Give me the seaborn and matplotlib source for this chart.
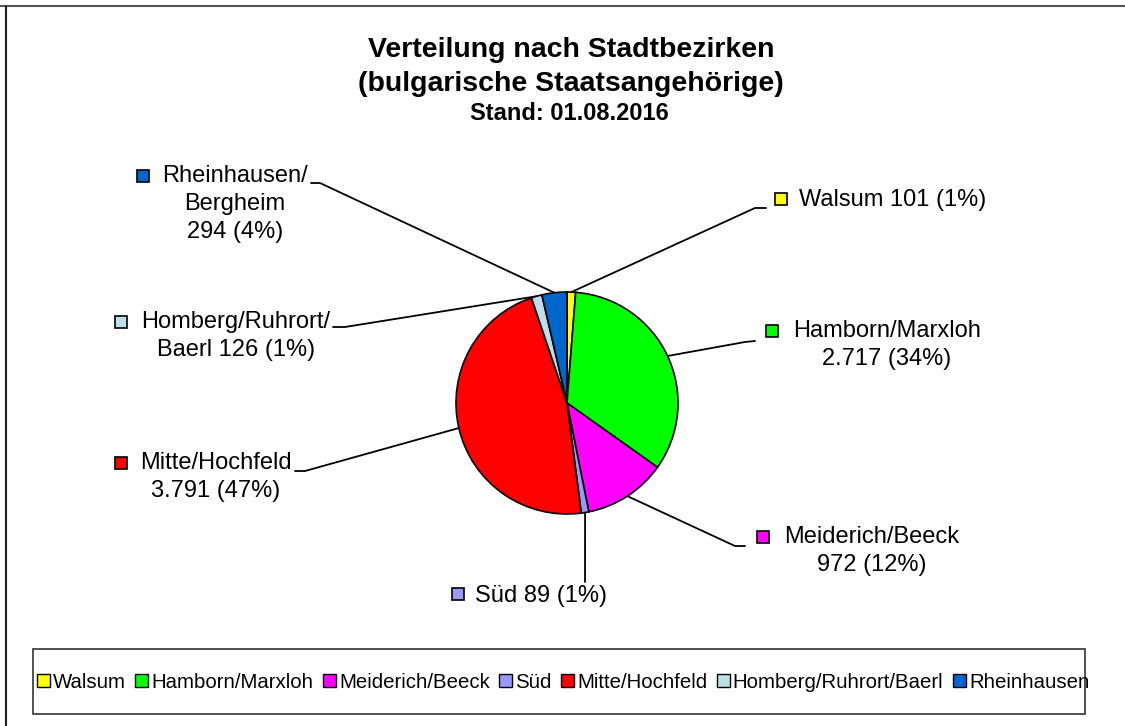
import numpy as np
import pandas as pd
import matplotlib.pyplot as plt
import seaborn as sns
from matplotlib.patches import Rectangle
from matplotlib.lines import Line2D

# Data
bezirke = ['Walsum', 'Hamborn/Marxloh', 'Meiderich/Beeck', 'Süd', 'Mitte/Hochfeld',
           'Homberg/Ruhrort/Baerl', 'Rheinhausen']
anzahl = [101, 2717, 972, 89, 3791, 126, 294]
label_texte = ['Walsum 101 (1%)', 'Hamborn/Marxloh\n2.717 (34%)', 'Meiderich/Beeck\n972 (12%)',
               'Süd 89 (1%)', 'Mitte/Hochfeld\n3.791 (47%)', 'Homberg/Ruhrort/\nBaerl 126 (1%)',
               'Rheinhausen/\nBergheim\n294 (4%)']
farben = ['#FFFF00', '#00FF00', '#FF00FF', '#9999FF', '#FF0000', '#BFDFE8', '#0066CC']

data = pd.DataFrame({'Bezirk': bezirke, 'Anzahl': anzahl, 'Farbe': farben})

sns.set_theme(style='white')
plt.rcParams['font.family'] = ['Liberation Sans', 'DejaVu Sans']
plt.rcParams['text.color'] = 'black'

W, H = 1125, 726
fig = plt.figure(figsize=(W / 100, H / 100), dpi=100)
ax = fig.add_axes([0, 0, 1, 1])


def px(x, y):
    # pixel position (from top left) -> data coords
    return x, H - y


# pie
cx, cy = px(567, 403)
R = 111
wedges, _ = ax.pie(data['Anzahl'], colors=data['Farbe'], startangle=90, counterclock=False,
                   center=(cx, cy), radius=R,
                   wedgeprops=dict(edgecolor='black', linewidth=1.2))
ax.set_xlim(0, W)
ax.set_ylim(0, H)
ax.set_aspect('equal')
ax.set_axis_off()

# label layout (pixels): elbow, line end, text position, text alignment, square position
layout = [
    dict(elbow=(755, 208), end=(766, 208), text=(799, 200), ha='left', sq=(781, 199)),
    dict(elbow=(745, 342), end=(755, 341), text=(887, 345), ha='center', sq=(772, 331)),
    dict(elbow=(735, 546), end=(745, 546), text=(872, 551), ha='center', sq=(763, 537)),
    dict(elbow=None, end=(585, 582), text=(475, 596), ha='left', sq=(458, 594)),
    dict(elbow=(305, 471), end=(295, 471), text=(216, 477), ha='center', sq=(121, 463)),
    dict(elbow=(345, 327), end=(333, 327), text=(236, 336), ha='center', sq=(121, 322)),
    dict(elbow=(320, 183), end=(311, 183), text=(235, 204), ha='center', sq=(143, 176)),
]

for w, lay, txt, col in zip(wedges, layout, label_texte, farben):
    theta = np.deg2rad((w.theta1 + w.theta2) / 2)
    ax_x = cx + R * np.cos(theta)
    ax_y = cy + R * np.sin(theta)
    pts = [(ax_x, ax_y)]
    if lay['elbow'] is not None:
        pts.append(px(*lay['elbow']))
    pts.append(px(*lay['end']))
    xs, ys = zip(*pts)
    ax.plot(xs, ys, color='black', lw=1.3, zorder=0)
    tx, ty = px(*lay['text'])
    ax.text(tx, ty, txt, ha=lay['ha'], va='center', multialignment='center',
            fontsize=17, color='black', linespacing=1.33)
    sx, sy = px(*lay['sq'])
    ax.add_patch(Rectangle((sx - 6, sy - 6), 12, 12, facecolor=col,
                           edgecolor='black', lw=1.2))

# title
fig.text(571 / W, 1 - 50 / H, 'Verteilung nach Stadtbezirken', ha='center', va='center',
         fontsize=20.5, fontweight='bold', color='black')
fig.text(571 / W, 1 - 84 / H, '(bulgarische Staatsangehörige)', ha='center', va='center',
         fontsize=20.5, fontweight='bold', color='black')
fig.text(569 / W, 1 - 113 / H, 'Stand: 01.08.2016', ha='center', va='center',
         fontsize=17, fontweight='bold', color='black')

# legend box
ax.add_patch(Rectangle(px(33, 714), 1052, 65, facecolor='white', edgecolor='#333333', lw=1.2))
handles = [Rectangle((0, 0), 1, 1, facecolor=c, edgecolor='black', lw=1.0) for c in farben]
leg = ax.legend(handles, bezirke, loc='center', bbox_to_anchor=(563 / W, 1 - 682 / H),
                bbox_transform=fig.transFigure, ncol=7, frameon=False,
                handlelength=0.65, handleheight=0.65, handletextpad=0.15,
                columnspacing=0.45, borderpad=0, labelcolor='black',
                prop=dict(family='Liberation Sans', size=14.7))

# outer frame (top and left edges)
fig.add_artist(Line2D([0, 1], [1 - 5.5 / H, 1 - 5.5 / H], transform=fig.transFigure,
                      color='#555555', lw=1.5))
fig.add_artist(Line2D([5.5 / W, 5.5 / W], [0, 1 - 5.5 / H], transform=fig.transFigure,
                      color='#222222', lw=1.5))

fig.savefig('out.png', dpi=100, facecolor='white')
